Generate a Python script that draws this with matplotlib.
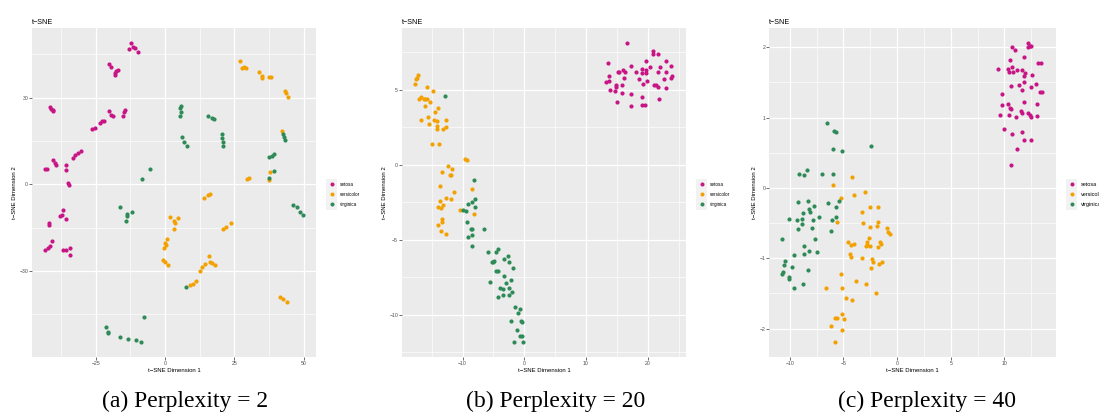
import matplotlib
matplotlib.use("Agg")
import matplotlib.pyplot as plt
from matplotlib.lines import Line2D
from matplotlib.patches import Rectangle
from matplotlib.ticker import MultipleLocator, FuncFormatter

plt.rcParams['font.family'] = ['Liberation Sans', 'DejaVu Sans']

species = ['setosa', 'versicolor', 'virginica']
colors = ['#C71585', '#F2A100', '#2E8B57']

# (a) perplexity = 2
a_setosa_x = [-13.1, -12.3, -11.6, -10.7, -9.6, -20.3, -19.4, -17.9, -17.6, -17.1, -18.0,
              -41.6, -41.0, -40.4, -40.6, -26.4, -25.2, -23.3, -22.6, -22.1, -20.2, -19.5, -18.9,
              -15.3, -14.9, -14.4, -33.2, -32.4, -31.4, -30.4, -40.4, -39.6, -39.2, -43.3, -42.6,
              -35.6, -35.6, -34.9, -34.8, -42.0, -41.8, -36.8, -37.8, -37.2, -35.9,
              -43.2, -42.4, -41.4, -40.8, -36.8, -35.6, -34.4, -34.4]
a_setosa_y = [46.8, 48.8, 47.4, 47.1, 45.9, 41.6, 40.5, 38.6, 39.3, 39.6, 37.7,
              26.8, 26.1, 25.4, 25.7, 19.1, 19.6, 21.3, 21.8, 22.0, 25.5, 24.0, 23.6,
              23.8, 25.1, 25.7, 9.1, 10.0, 10.7, 11.5, 8.5, 7.3, 6.8, 5.2, 5.3,
              6.7, 5.1, 0.6, -0.1, -13.5, -14.0, -8.9, -11.0, -10.5, -11.9,
              -22.6, -22.0, -21.4, -19.7, -22.7, -22.8, -21.9, -24.4]
a_versicolor_x = [27.2, 27.7, 28.4, 29.4, 33.9, 34.9, 35.1, 37.5, 38.3, 43.2, 43.7, 44.4, 42.4,
                  29.6, 30.2, 37.5, 38.0, 14.2, 15.4, 16.1, 1.9, 3.4, 4.6, 3.7, 3.1,
                  20.9, 22.1, 23.8, 0.7, 0.1, -0.2, 0.5, -0.7, 0.1, 1.1,
                  12.5, 13.5, 14.6, 15.8, 16.2, 17.1, 18.2, 9.1, 10.1, 11.3, 41.4, 42.6, 44.0]
a_versicolor_y = [42.6, 40.1, 40.7, 40.2, 39.0, 37.5, 36.7, 37.0, 37.0, 32.4, 31.7, 30.3, 18.6,
                  1.8, 2.0, 1.6, 4.4, -4.9, -3.7, -3.4, -11.4, -12.6, -11.8, -13.5, -15.6,
                  -15.5, -14.7, -13.5, -18.9, -20.4, -22.2, -21.0, -26.2, -26.8, -27.8,
                  -30.2, -28.8, -27.6, -25.0, -27.0, -27.1, -27.8, -34.8, -34.5, -33.5, -38.9, -39.8, -40.8]
a_virginica_x = [5.5, 5.9, 5.8, 5.5, 15.4, 17.0, 17.6, 6.0, 6.7, 7.9, 20.5, 20.7, 20.8, 20.9,
                 42.6, 43.1, 43.4, 37.4, 38.6, 39.5, 39.5, 37.4, -8.3, -5.3,
                 -16.1, -13.7, -13.7, -14.0, -11.9, 46.2, 47.7, 48.9, 49.8, 7.6, -7.5,
                 -21.2, -20.7, -20.7, -16.1, -13.5, -10.3, -8.7]
a_virginica_y = [26.3, 27.1, 25.1, 23.6, 23.8, 23.0, 22.6, 16.3, 14.8, 13.3, 17.3, 16.1, 14.8, 13.4,
                 17.4, 16.3, 15.3, 9.6, 9.8, 10.4, 4.6, 2.1, 1.8, 5.2,
                 -8.0, -10.3, -11.0, -12.6, -9.5, -7.2, -7.7, -9.6, -10.6, -35.4, -45.8,
                 -49.3, -51.0, -51.6, -52.9, -53.4, -53.9, -54.6]

# (b) perplexity = 20
b_setosa_x = [16.7, 13.5, 13.8, 13.3, 13.8, 13.9, 14.8, 14.9, 14.7, 15.0, 15.2, 15.4, 16.0, 16.4,
              16.2, 15.9, 15.8, 17.3, 17.3, 17.3, 18.1, 18.6, 19.1, 19.1, 19.3, 19.7, 19.8, 19.8,
              19.9, 19.0, 19.0, 19.6, 20.3, 20.9, 20.9, 21.6, 21.7, 22.0, 21.0, 21.4, 21.6, 21.8,
              22.6, 22.9, 23.0, 23.0, 23.8, 23.7, 24.0]
b_setosa_y = [8.1, 6.8, 5.9, 5.5, 5.6, 5.0, 5.3, 5.2, 4.9, 4.2, 6.2, 6.2, 6.3, 6.2,
              5.8, 5.3, 4.8, 6.6, 4.7, 3.9, 6.2, 5.7, 6.4, 6.1, 5.4, 6.9, 6.3, 6.1,
              5.6, 4.5, 4.0, 4.0, 6.5, 7.6, 7.4, 7.4, 6.2, 6.5, 5.3, 5.3, 5.2, 4.4,
              5.7, 6.9, 6.2, 5.1, 6.6, 5.8, 5.9]
b_versicolor_x = [-17.7, -17.5, -17.4, -17.2, -17.0, -16.7, -16.3, -16.1, -15.7, -14.8, -15.7, -15.3,
                  -16.0, -16.8, -15.6, -15.5, -14.6, -14.4, -13.9, -14.2, -14.1, -14.1, -13.1, -12.7,
                  -12.6, -15.0, -13.8, -9.6, -9.3, -12.4, -11.7, -13.4, -12.1, -11.8, -13.6, -8.4,
                  -11.4, -12.6, -11.8, -13.7, -13.9, -13.5, -13.1, -10.4, -8.1, -13.4, -13.3, -14.0,
                  -13.5, -12.7]
b_versicolor_y = [5.4, 5.7, 5.8, 6.0, 4.4, 4.5, 4.4, 4.4, 5.2, 4.9, 4.4, 4.2,
                  3.9, 3.0, 3.2, 2.7, 3.0, 3.5, 3.8, 2.9, 2.6, 2.4, 2.4, 2.5,
                  3.0, 1.4, 1.4, 0.4, 0.3, -0.1, -0.3, -0.5, -0.7, -0.7, -1.4, -1.6,
                  -1.8, -2.2, -2.3, -2.4, -2.8, -2.9, -2.7, -3.0, -3.3, -3.6, -3.8, -4.0,
                  -4.4, -4.6]
b_virginica_x = [-12.8, -8.1, -9.1, -8.5, -7.9, -7.9, -9.9, -9.5, -9.3, -8.6, -8.5, -6.5,
                 -9.1, -8.5, -8.5, -5.8, -4.6, -4.3, -2.7, -3.3, -5.1, -4.9, -5.3, -2.4,
                 -4.6, -4.2, -1.8, -3.3, -5.6, -2.9, -2.2, -2.5, -4.0, -3.5, -2.0, -2.4,
                 -4.2, -3.5, -1.5, -0.7, -1.0, -2.2, -0.6, -0.4, -1.1, -0.7, -0.4, -1.7, -0.2]
b_virginica_y = [4.6, -1.0, -2.6, -2.5, -2.3, -2.8, -3.0, -3.1, -3.8, -4.3, -4.3, -4.3,
                 -4.8, -4.7, -5.4, -5.8, -5.8, -5.6, -6.1, -6.3, -6.5, -6.4, -6.5, -6.5,
                 -7.1, -7.1, -6.9, -7.4, -7.8, -7.9, -7.7, -8.2, -8.2, -8.3, -8.5, -8.7,
                 -8.8, -8.7, -9.5, -9.6, -9.9, -10.4, -10.4, -10.5, -11.0, -11.4, -11.4, -11.8, -11.8]

# (c) perplexity = 40
c_setosa_x = [12.2, 12.2, 12.4, 12.5, 10.7, 11.0, 11.8, 10.5, 9.4, 10.3, 10.4, 10.7, 10.8,
              11.2, 11.6, 11.9, 11.8, 12.6, 13.1, 13.4, 9.8, 10.6, 11.4, 11.8, 11.6, 12.5,
              12.9, 13.3, 13.5, 9.8, 10.3, 10.5, 10.6, 11.8, 13.0, 9.6, 10.4, 11.1, 11.5,
              11.6, 12.2, 12.4, 12.5, 13.0, 10.0, 10.7, 11.6, 11.8, 12.5, 11.2, 10.6]
c_setosa_y = [2.06, 2.00, 2.02, 2.02, 2.00, 1.96, 1.86, 1.82, 1.69, 1.69, 1.65, 1.72, 1.65,
              1.67, 1.68, 1.63, 1.59, 1.61, 1.78, 1.77, 1.34, 1.45, 1.46, 1.51, 1.39, 1.43,
              1.48, 1.36, 1.37, 1.18, 1.20, 1.14, 1.12, 1.22, 1.20, 1.04, 1.03, 1.01, 1.09,
              1.06, 1.06, 1.03, 1.01, 1.02, 0.84, 0.76, 0.80, 0.68, 0.68, 0.55, 0.32]
c_versicolor_x = [-6.0, -4.2, -5.2, -4.0, -3.0, -2.5, -1.8, -3.3, -5.6, -3.2, -1.9, -1.8,
                  -2.5, -0.9, -0.8, -0.7, -2.6, -4.6, -4.3, -4.0, -2.8, -2.8, -2.5, -2.9,
                  -1.6, -1.5, -1.8, -4.4, -4.3, -3.3, -2.3, -2.2, -1.7, -1.4, -2.4, -5.2,
                  -3.8, -2.9, -6.6, -5.1, -2.0, -4.8, -4.2, -5.1, -5.8, -5.6, -4.9, -6.2,
                  -5.1, -5.8]
c_versicolor_y = [0.04, 0.16, -0.15, -0.10, -0.06, -0.27, -0.27, -0.34, -0.49, -0.50, -0.54, -0.48,
                  -0.56, -0.57, -0.62, -0.66, -0.71, -0.77, -0.81, -0.80, -0.77, -0.81, -0.82, -0.83,
                  -0.77, -0.80, -0.84, -0.94, -0.98, -1.00, -1.01, -1.05, -1.08, -1.05, -1.14, -1.23,
                  -1.32, -1.37, -1.42, -1.43, -1.49, -1.57, -1.60, -1.79, -1.85, -1.85, -1.87, -1.96,
                  -2.02, -2.19]
c_virginica_x = [-6.5, -5.9, -5.7, -6.0, -5.1, -2.4, -9.1, -8.7, -8.4, -7.0, -6.0, -9.2,
                 -8.3, -7.7, -8.8, -8.2, -8.1, -10.1, -9.3, -8.9, -7.8, -7.3, -8.9, -9.2,
                 -7.9, -6.4, -5.7, -5.4, -6.1, -5.7, -6.2, -10.7, -7.6, -8.7, -8.2, -7.5,
                 -9.6, -8.7, -10.4, -10.5, -9.8, -8.3, -10.6, -10.7, -10.1, -10.1, -9.6, -8.8]
c_virginica_y = [0.92, 0.81, 0.79, 0.55, 0.52, 0.59, 0.20, 0.18, 0.26, 0.20, 0.20, -0.20,
                 -0.18, -0.25, -0.36, -0.30, -0.34, -0.44, -0.46, -0.44, -0.45, -0.42, -0.52, -0.58,
                 -0.57, -0.22, -0.27, -0.19, -0.45, -0.41, -0.61, -0.72, -0.73, -0.82, -0.89, -0.91,
                 -0.96, -0.94, -1.04, -1.10, -1.13, -1.17, -1.20, -1.23, -1.27, -1.30, -1.42, -1.37]

captions = ['(a) Perplexity = 2', '(b) Perplexity = 20', '(c) Perplexity = 40']

W, H = 1099, 412


def minus_fmt(v, pos):
    return f'{v:g}'.replace('-', '\u2212')


def draw_panel(fig, left_px, right_px, series, xlim, ylim, xstep, ystep, legend_fs=3.3):
    top_px, bottom_px = 28.3, 356.7
    ax = fig.add_axes([left_px / W, 1 - bottom_px / H,
                       (right_px - left_px) / W, (bottom_px - top_px) / H])
    ax.set_facecolor('#EBEBEB')
    for sp in ax.spines.values():
        sp.set_visible(False)

    for (xs, ys), c in zip(series, colors):
        ax.scatter(xs, ys, s=9, color=c, linewidths=0, zorder=3)

    ax.set_xlim(xlim)
    ax.set_ylim(ylim)
    ax.xaxis.set_major_locator(MultipleLocator(xstep))
    ax.xaxis.set_minor_locator(MultipleLocator(xstep / 2))
    ax.yaxis.set_major_locator(MultipleLocator(ystep))
    ax.yaxis.set_minor_locator(MultipleLocator(ystep / 2))
    ax.xaxis.set_major_formatter(FuncFormatter(minus_fmt))
    ax.yaxis.set_major_formatter(FuncFormatter(minus_fmt))
    ax.grid(which='major', color='white', lw=0.9)
    ax.grid(which='minor', color='white', lw=0.45)
    ax.set_axisbelow(True)
    ax.tick_params(which='minor', length=0)
    ax.tick_params(which='major', length=2, width=0.5, color='#333333',
                   labelsize=3.7, labelcolor='#4D4D4D', pad=0.8)

    ax.set_title('t\u2212SNE', loc='left', fontsize=5.2, pad=3.1)
    ax.set_xlabel('t\u2212SNE Dimension 1', fontsize=4.3, labelpad=1.5)
    ax.set_ylabel('t\u2212SNE Dimension 2', fontsize=4.3, labelpad=2.0)

    # legend: gray key column plus labels
    key_c = right_px + 15.5
    fig.add_artist(Rectangle(((key_c - 5.2) / W, 1 - 210.2 / H), 10.4 / W, 31.4 / H,
                             transform=fig.transFigure, facecolor='#F2F2F2',
                             edgecolor='none', zorder=-1))
    handles = [Line2D([], [], ls='', marker='o', ms=2.9, color=c, mec='none') for c in colors]
    hl = 9.2 / (legend_fs * 100 / 72)
    ax.legend(handles, species, loc='center left',
              bbox_to_anchor=((key_c - 4.6) / W, 1 - 194.5 / H),
              bbox_transform=fig.transFigure, frameon=False, fontsize=legend_fs,
              handlelength=hl, handletextpad=0.8, labelspacing=3.3 * 1.1 / legend_fs,
              borderpad=0, borderaxespad=0)
    return ax


def main():
    fig = plt.figure(figsize=(W / 100, H / 100), dpi=100)

    draw_panel(fig, 32, 316,
               [(a_setosa_x, a_setosa_y), (a_versicolor_x, a_versicolor_y),
                (a_virginica_x, a_virginica_y)],
               (-48, 54.5), (-59.7, 54), 25, 30)
    draw_panel(fig, 402, 686,
               [(b_setosa_x, b_setosa_y), (b_versicolor_x, b_versicolor_y),
                (b_virginica_x, b_virginica_y)],
               (-19.8, 26.2), (-12.8, 9.1), 10, 5)
    draw_panel(fig, 769.3, 1056,
               [(c_setosa_x, c_setosa_y), (c_versicolor_x, c_versicolor_y),
                (c_virginica_x, c_virginica_y)],
               (-11.9, 14.8), (-2.40, 2.27), 5, 1, legend_fs=4.0)

    for cx, text in zip([185, 556, 927], captions):
        fig.text(cx / W, 1 - 406.5 / H, text, ha='center', va='baseline',
                 fontsize=17, family=['Liberation Serif', 'DejaVu Serif'])

    fig.savefig('out.png', dpi=100)


if __name__ == "__main__":
    main()
